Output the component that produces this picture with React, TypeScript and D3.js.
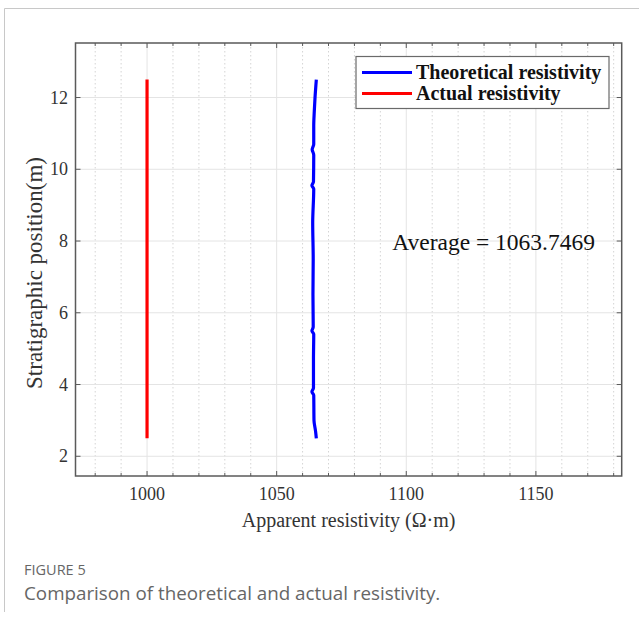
import React from "react";
import * as d3 from "d3";

// ---- data ----
const xTicks = [1000, 1050, 1100, 1150];
const xMinorTicks = [980, 990, 1000, 1010, 1020, 1030, 1040, 1050, 1060, 1070, 1080, 1090, 1100, 1110, 1120, 1130, 1140, 1150, 1160, 1170, 1180];
const yTicks = [2, 4, 6, 8, 10, 12];

const theoDepth = [2.5, 2.7, 3.0, 3.7, 3.8, 3.9, 4.7, 5.4, 5.5, 5.6, 6.5, 7.5, 8.5, 9.45, 9.55, 9.65, 10.4, 10.55, 10.7, 11.2, 11.6, 12.0, 12.5];
const theoValue = [1065.3, 1065.0, 1064.4, 1064.3, 1063.6, 1064.2, 1064.2, 1064.3, 1063.6, 1064.1, 1064.0, 1064.1, 1063.9, 1064.3, 1063.6, 1064.2, 1064.3, 1063.7, 1064.3, 1064.3, 1064.5, 1064.8, 1065.3];

const actualDepth = [2.5, 12.5];
const actualValue = [1000, 1000];

const legendLabels = ["Theoretical resistivity", "Actual resistivity"];
const seriesColors = ["#0000ff", "#ff0000"];
const averageText = "Average = 1063.7469";
const avgX = 1094.6;
const avgY = 7.75;

const W = 639;
const H = 622;
const M = { left: 75.5, right: 621.7, top: 43, bottom: 476 };

export default function App() {
  const x = d3.scaleLinear().domain([972.4, 1183.1]).range([M.left, M.right]);
  const y = d3.scaleLinear().domain([1.45, 13.52]).range([M.bottom, M.top]);

  const line = d3
    .line<[number, number]>()
    .x((d) => x(d[0]))
    .y((d) => y(d[1]))
    .curve(d3.curveMonotoneY);

  const theo: [number, number][] = theoDepth.map((d, i) => [theoValue[i], d]);
  const act: [number, number][] = actualDepth.map((d, i) => [actualValue[i], d]);

  const serif = "'Liberation Serif', 'Times New Roman', serif";
  const sans = "'Open Sans', 'Noto Sans', sans-serif";
  const axisColor = "#5a5a5a";

  return (
    <div style={{ position: "absolute", left: 0, top: 0 }}>
      <svg width={W} height={H} style={{ display: "block" }}>
        <rect x={0} y={0} width={W} height={H} fill="#fff" />
        {/* outer frame */}
        <path d={`M4.5,612 V8.5 H${W}`} fill="none" stroke="#c8c8c8" strokeWidth={1} />

        {/* minor grid (dotted) */}
        {xMinorTicks.filter((t) => !xTicks.includes(t)).map((t) => (
          <line key={"mg" + t} x1={x(t)} x2={x(t)} y1={M.top} y2={M.bottom} stroke="#d4d4d4" strokeWidth={1} strokeDasharray="1.5,2.5" />
        ))}
        {/* major grid */}
        {xTicks.map((t) => (
          <line key={"gx" + t} x1={x(t)} x2={x(t)} y1={M.top} y2={M.bottom} stroke="#e4e4e4" strokeWidth={1} />
        ))}
        {yTicks.map((t) => (
          <line key={"gy" + t} x1={M.left} x2={M.right} y1={y(t)} y2={y(t)} stroke="#e4e4e4" strokeWidth={1} />
        ))}

        {/* data lines */}
        <path d={line(act) || ""} fill="none" stroke={seriesColors[1]} strokeWidth={3.2} />
        <path d={line(theo) || ""} fill="none" stroke={seriesColors[0]} strokeWidth={3.2} strokeLinejoin="round" />

        {/* axes box */}
        <rect x={M.left} y={M.top} width={M.right - M.left} height={M.bottom - M.top} fill="none" stroke={axisColor} strokeWidth={1.5} />

        {/* ticks */}
        {xMinorTicks.map((t) => {
          const len = xTicks.includes(t) ? 5 : 3;
          return (
            <g key={"xt" + t}>
              <line x1={x(t)} x2={x(t)} y1={M.bottom} y2={M.bottom - len} stroke={axisColor} strokeWidth={1} />
              <line x1={x(t)} x2={x(t)} y1={M.top} y2={M.top + len} stroke={axisColor} strokeWidth={1} />
            </g>
          );
        })}
        {yTicks.map((t) => (
          <g key={"yt" + t}>
            <line x1={M.left} x2={M.left + 5} y1={y(t)} y2={y(t)} stroke={axisColor} strokeWidth={1} />
            <line x1={M.right} x2={M.right - 5} y1={y(t)} y2={y(t)} stroke={axisColor} strokeWidth={1} />
          </g>
        ))}

        {/* tick labels */}
        {xTicks.map((t) => (
          <text key={"xl" + t} x={x(t)} y={500} textAnchor="middle" fontFamily={serif} fontSize={18} fill="#333">
            {t}
          </text>
        ))}
        {yTicks.map((t) => (
          <text key={"yl" + t} x={68} y={y(t) + 6} textAnchor="end" fontFamily={serif} fontSize={18} fill="#333">
            {t}
          </text>
        ))}

        {/* axis labels */}
        <text x={(M.left + M.right) / 2} y={527} textAnchor="middle" fontFamily={serif} fontSize={20} fill="#333">
          Apparent resistivity (Ω·m)
        </text>
        <text transform={`translate(42,273) rotate(-90)`} textAnchor="middle" fontFamily={serif} fontSize={23} fill="#333">
          Stratigraphic position(m)
        </text>

        {/* annotation */}
        <text x={x(avgX)} y={y(avgY)} fontFamily={serif} fontSize={23.5} fill="#111">
          {averageText}
        </text>

        {/* legend */}
        <rect x={356} y={56.5} width={253} height={52} fill="#fff" stroke="#6a6a6a" strokeWidth={1.2} />
        {legendLabels.map((lbl, i) => (
          <g key={lbl}>
            <line x1={362} x2={412} y1={72.5 + i * 21} y2={72.5 + i * 21} stroke={seriesColors[i]} strokeWidth={3} />
            <text x={416} y={79 + i * 21} fontFamily={serif} fontWeight="bold" fontSize={20} fill="#111">
              {lbl}
            </text>
          </g>
        ))}

        {/* caption */}
        <text x={24} y={575} fontFamily={sans} fontSize={14.5} fill="#666">
          FIGURE 5
        </text>
        <text x={24} y={599.5} fontFamily={sans} fontSize={18.8} fill="#666">
          Comparison of theoretical and actual resistivity.
        </text>
      </svg>
    </div>
  );
}
